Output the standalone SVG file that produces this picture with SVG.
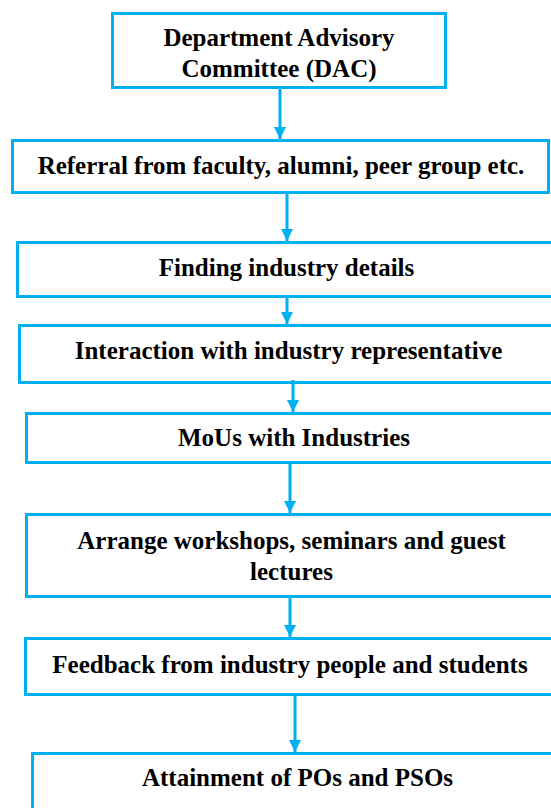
<svg xmlns="http://www.w3.org/2000/svg" width="551" height="808" viewBox="0 0 551 808">
<style>
.box{fill:#fff;stroke:#00b0f0;stroke-width:3}
.t{font-family:'Liberation Serif','Times New Roman',serif;font-weight:700;font-size:25px;fill:#000;text-anchor:middle}
.c{stroke:#00b0f0;stroke-width:3;fill:none}
</style>
<defs>
<marker id="ah" markerWidth="4" markerHeight="4" refX="4" refY="2" orient="auto" markerUnits="strokeWidth">
<path d="M0,0 L4,2 L0,4 z" fill="#00b0f0"/>
</marker>
</defs>
<g id="n1"><rect class="box" x="112.5" y="13.5" width="333" height="74"/><text class="t" x="279" y="46">Department Advisory</text><text class="t" x="279" y="77">Committee (DAC)</text></g>
<g id="n2"><rect class="box" x="12.5" y="140.5" width="536" height="52"/><text class="t" x="281" y="174">Referral from faculty, alumni, peer group etc.</text></g>
<g id="n3"><rect class="box" x="17.5" y="242.5" width="545" height="54"/><text class="t" x="286.5" y="276">Finding industry details</text></g>
<g id="n4"><rect class="box" x="19.5" y="325.5" width="545" height="57"/><text class="t" x="288.5" y="359">Interaction with industry representative</text></g>
<g id="n5"><rect class="box" x="26.5" y="413.5" width="545" height="49"/><text class="t" x="294" y="446">MoUs with Industries</text></g>
<g id="n6"><rect class="box" x="26.5" y="514.5" width="545" height="82"/><text class="t" x="291.5" y="549">Arrange workshops, seminars and guest</text><text class="t" x="291.5" y="580">lectures</text></g>
<g id="n7"><rect class="box" x="25.5" y="638.5" width="545" height="56"/><text class="t" x="290" y="673">Feedback from industry people and students</text></g>
<g id="n8"><rect class="box" x="32.5" y="753.5" width="545" height="80"/><text class="t" x="297.5" y="786">Attainment of POs and PSOs</text></g>
<g id="connectors">
<line class="c" x1="280" y1="89" x2="280" y2="139" marker-end="url(#ah)"/>
<line class="c" x1="287" y1="194" x2="287" y2="241" marker-end="url(#ah)"/>
<line class="c" x1="287" y1="298" x2="287" y2="324" marker-end="url(#ah)"/>
<line class="c" x1="293" y1="380" x2="293" y2="412" marker-end="url(#ah)"/>
<line class="c" x1="290" y1="464" x2="290" y2="513" marker-end="url(#ah)"/>
<line class="c" x1="290" y1="598" x2="290" y2="637" marker-end="url(#ah)"/>
<line class="c" x1="295" y1="696" x2="295" y2="752" marker-end="url(#ah)"/>
</g>
</svg>
